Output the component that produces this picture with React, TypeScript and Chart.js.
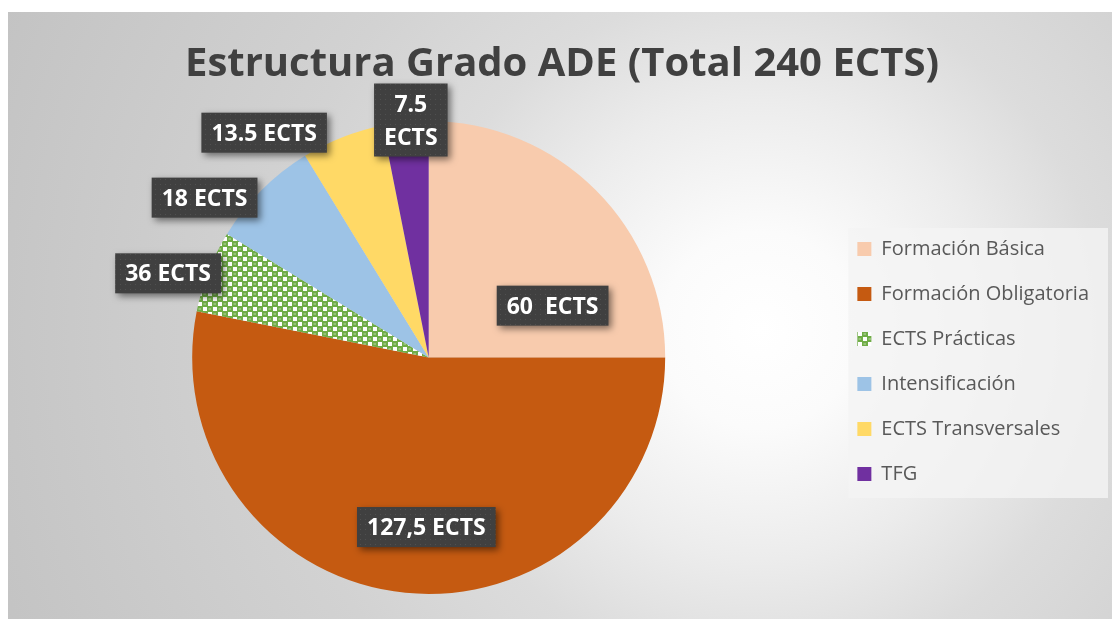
import React, { useEffect, useRef } from "react";
import { Chart, registerables } from "chart.js";

Chart.register(...registerables);

// ---------- data ----------
const chartTitle = "Estructura Grado ADE (Total 240 ECTS)";
const categories = [
  "Formación Básica",
  "Formación Obligatoria",
  "ECTS Prácticas",
  "Intensificación",
  "ECTS Transversales",
  "TFG",
];
// share of the pie (sums to 240)
const ectsValues = [60, 127.5, 13.5, 18, 13.5, 7.5];
// text shown in the data-label boxes
const dataLabelLines = [
  ["60  ECTS"],
  ["127,5 ECTS"],
  ["36 ECTS"],
  ["18 ECTS"],
  ["13.5 ECTS"],
  ["7.5", "ECTS"],
];

// ---------- style / layout ----------
const sliceColors = ["#F8CBAD", "#C55A11", "PATTERN", "#9DC3E6", "#FFD966", "#7030A0"];
// label anchor: [angle in degrees clockwise from 12 o'clock, distance as fraction of radius]
const labelPlacement: [number, number][] = [
  [67.3, 0.568],
  [180.8, 0.717],
  [287.9, 1.158],
  [305.5, 1.164],
  [323.8, 1.178],
  [355.7, 1.007],
];

function makeGreenPattern(ctx: CanvasRenderingContext2D) {
  const c = document.createElement("canvas");
  c.width = 10;
  c.height = 10;
  const g = c.getContext("2d")!;
  g.fillStyle = "#70AD47";
  g.fillRect(0, 0, 10, 10);
  g.fillStyle = "#ffffff";
  g.fillRect(0, 0, 4, 4);
  g.fillRect(5, 5, 4, 4);
  g.fillStyle = "rgba(255,255,255,0.55)";
  g.fillRect(5.5, 1.5, 2.5, 1);
  g.fillRect(0.5, 6.5, 2.5, 1);
  return ctx.createPattern(c, "repeat")!;
}

function makeDotPattern(ctx: CanvasRenderingContext2D) {
  const c = document.createElement("canvas");
  c.width = 5;
  c.height = 5;
  const g = c.getContext("2d")!;
  g.fillStyle = "#404040";
  g.fillRect(0, 0, 5, 5);
  g.fillStyle = "#505050";
  g.fillRect(2, 2, 1, 1);
  return ctx.createPattern(c, "repeat")!;
}

const backgroundPlugin = {
  id: "bgPlugin",
  beforeDraw(chart: any) {
    const { ctx, width, height } = chart;
    ctx.save();
    const grad = ctx.createRadialGradient(752, 318, 0, 752, 318, 820);
    grad.addColorStop(0, "#ffffff");
    grad.addColorStop(0.12, "#fbfbfb");
    grad.addColorStop(0.28, "#ececec");
    grad.addColorStop(0.42, "#dcdcdc");
    grad.addColorStop(0.6, "#d2d2d2");
    grad.addColorStop(1, "#c3c3c3");
    ctx.fillStyle = grad;
    ctx.fillRect(0, 0, width, height);
    // legend panel
    const lg = chart.legend;
    if (lg && lg.legendHitBoxes && lg.legendHitBoxes.length) {
      const hb = lg.legendHitBoxes;
      const first = hb[0];
      const last = hb[hb.length - 1];
      const x0 = first.left - 9;
      const y0 = first.top - 11;
      const y1 = last.top + last.height + 14;
      ctx.fillStyle = "rgba(244,244,244,0.8)";
      ctx.fillRect(x0, y0, width - 4 - x0, y1 - y0);
    }
    ctx.restore();
  },
};

const dataLabelPlugin = {
  id: "boxLabels",
  afterDatasetsDraw(chart: any) {
    const ctx: CanvasRenderingContext2D = chart.ctx;
    const meta = chart.getDatasetMeta(0);
    const dots = makeDotPattern(ctx);
    ctx.save();
    ctx.font = "bold 23px 'Open Sans'";
    meta.data.forEach((arc: any, i: number) => {
      const { x, y, outerRadius } = arc.getProps(["x", "y", "outerRadius"], true);
      const [deg, rf] = labelPlacement[i];
      const a = ((deg - 90) * Math.PI) / 180;
      const cx = x + Math.cos(a) * rf * outerRadius;
      const cy = y + Math.sin(a) * rf * outerRadius;
      const lines = dataLabelLines[i];
      const tw = Math.max(...lines.map((l) => ctx.measureText(l).width));
      const w = tw + 20;
      const lh = 33;
      const h = 40 + lh * (lines.length - 1);
      ctx.save();
      ctx.shadowColor = "rgba(0,0,0,0.5)";
      ctx.shadowBlur = 7;
      ctx.shadowOffsetX = 3;
      ctx.shadowOffsetY = 3;
      ctx.fillStyle = dots;
      ctx.fillRect(cx - w / 2, cy - h / 2, w, h);
      ctx.restore();
      ctx.fillStyle = "#ffffff";
      ctx.textAlign = "center";
      ctx.textBaseline = "middle";
      lines.forEach((l, k) => {
        const ly = cy - ((lines.length - 1) * lh) / 2 + k * lh + 1.5;
        ctx.fillText(l, cx, ly);
      });
    });
    ctx.restore();
  },
};

export default function App() {
  const ref = useRef<HTMLCanvasElement>(null);
  useEffect(() => {
    const canvas = ref.current!;
    const ctx = canvas.getContext("2d")!;
    const green = makeGreenPattern(ctx);
    const colors = sliceColors.map((c) => (c === "PATTERN" ? green : c));
    const chart = new Chart(canvas, {
      type: "pie",
      data: {
        labels: categories,
        datasets: [
          {
            data: ectsValues,
            backgroundColor: colors as any,
            borderWidth: 0,
          },
        ],
      },
      options: {
        responsive: false,
        animation: false,
        events: [],
        layout: { padding: { left: 17, right: 13, top: 0, bottom: 25 } },
        plugins: {
          title: {
            display: true,
            text: chartTitle,
            color: "#404040",
            font: { family: "'Open Sans'", size: 40, weight: "bold" },
            padding: { top: 29, bottom: 32 },
          },
          legend: {
            display: true,
            position: "right",
            fullSize: false,
            title: {
              display: true,
              text: "",
              font: { size: 0, lineHeight: 0 },
              padding: { top: 4, bottom: 4 },
            },
            labels: {
              color: "#595959",
              font: { family: "'Open Sans'", size: 20 },
              boxWidth: 14,
              boxHeight: 14,
              padding: 25,
            },
          },
          tooltip: { enabled: false },
        },
      },
      plugins: [backgroundPlugin, dataLabelPlugin],
    });
    return () => chart.destroy();
  }, []);
  return (
    <div style={{ position: "absolute", left: 8, top: 12, width: 1104, height: 607 }}>
      <canvas ref={ref} width={1104} height={607} style={{ display: "block" }} />
    </div>
  );
}
